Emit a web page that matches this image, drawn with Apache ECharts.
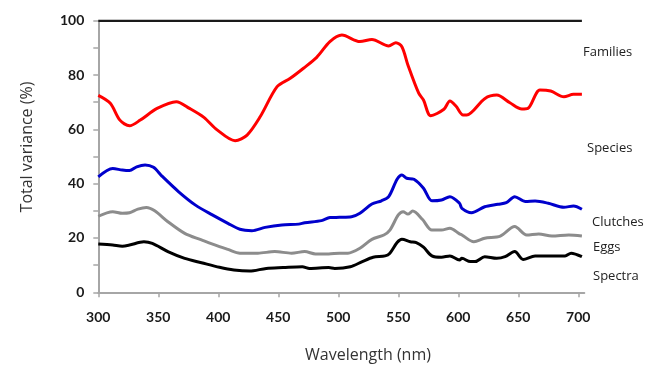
<!DOCTYPE html>
<html><head><meta charset="utf-8">
<script src="https://cdn.jsdelivr.net/npm/echarts@6/dist/echarts.min.js"></script>
<style>html,body{margin:0;padding:0;background:#fff}#c{width:658px;height:370px}</style>
</head><body><div id="c"></div>
<script>
const xTicks = [300, 350, 400, 450, 500, 550, 600, 650, 700];
const yTicks = [0, 20, 40, 60, 80, 100];

const totalNm = [300, 703];
const totalVal = [100, 100];

const familiesNm = [300,310,318,326,335,349,365,376,388,399,414,424,435,449,460,471,482,493,503,518,528,542,548,553,558,567,571,577,588,593,598,604,607,622,632,643,653,658,668,677,688,696,703];
const familiesVal = [72.5,69.6,63.4,61.3,63.4,67.7,70.2,67.7,64.4,59.8,55.8,57.9,64.7,75.7,78.8,82.5,86.5,92.3,94.7,92.3,93.1,90.7,91.9,90.4,83.7,73.3,70.8,65.0,67.4,70.4,68.6,65.3,65.3,71.3,72.6,69.8,67.5,67.7,74.5,74.1,72.0,72.9,72.9];

const speciesNm = [300,312,320,326,332,339,346,353,367,381,395,408,418,428,439,453,467,472,486,493,501,511,518,528,536,542,549,553,557,563,571,578,586,593,601,603,611,622,633,640,647,656,664,675,688,696,703];
const speciesVal = [42.5,45.6,45.0,44.8,46.2,46.9,46.0,42.8,37.0,32.1,28.5,25.4,23.2,22.7,23.9,24.8,25.1,25.6,26.4,27.5,27.6,27.8,29.1,32.5,33.7,35.2,41.6,43.2,42.0,41.6,38.3,33.7,34.0,35.2,32.8,30.9,29.3,31.5,32.4,33.0,35.2,33.4,33.6,32.8,31.3,31.8,30.6];

const clutchesNm = [300,312,320,326,333,340,347,358,372,386,401,408,418,433,447,461,472,481,492,501,508,518,528,538,543,550,554,558,562,570,578,586,593,601,603,613,622,635,647,657,667,678,692,703];
const clutchesVal = [28.0,29.7,29.1,29.3,30.6,31.2,30.0,26.0,21.7,19.3,16.8,15.8,14.4,14.4,15.0,14.4,15.0,14.1,14.1,14.4,14.4,16.2,19.5,21.1,22.9,28.5,29.7,28.8,29.9,26.9,22.9,22.9,23.6,21.5,21.1,18.6,19.9,20.7,24.2,21.1,21.5,20.7,21.1,20.7];

const eggsNm = [300,312,320,326,338,345,358,372,386,401,413,426,440,454,470,476,492,497,510,520,529,539,543,549,553,560,565,571,578,586,593,601,603,610,614,622,632,639,647,654,664,675,689,694,703];
const eggsVal = [17.8,17.4,17.0,17.4,18.6,18.0,15.0,12.5,10.9,9.2,8.2,7.8,8.8,9.1,9.4,8.8,9.1,8.8,9.4,11.3,12.9,13.4,14.4,18.3,19.5,18.6,18.3,16.6,13.4,12.9,13.4,11.9,12.5,11.3,11.3,13.1,12.5,13.1,15.0,12.1,13.4,13.4,13.4,14.4,13.1];

const bandNames = ['Families', 'Species', 'Clutches', 'Eggs', 'Spectra'];
const xAxisTitle = 'Wavelength (nm)';
const yAxisTitle = 'Total variance (%)';

const pair = (xs, ys) => xs.map((x, i) => [x, ys[i]]);
const TICKFONT = 'Lato';
const TEXTFONT = 'Open Sans';

function line(name, xs, ys, color, width, smooth) {
  return {
    name, type: 'line', data: pair(xs, ys), showSymbol: false, smooth: smooth,
    lineStyle: { color, width }, animation: false, z: 3
  };
}

const bandLabelPos = [[583, 52], [587, 148], [592, 222], [593, 247], [593, 276]];

const chart = echarts.init(document.getElementById('c'), null, { renderer: 'canvas' });
chart.setOption({
  animation: false,
  backgroundColor: '#fff',
  grid: { left: 98.3, right: 73.7, top: 20.7, bottom: 77.7, containLabel: false },
  xAxis: {
    type: 'value', min: 300, max: 705, interval: 50,
    axisLine: { show: true, lineStyle: { color: '#a6a6a6', width: 2 } },
    axisTick: { show: true, length: 5, customValues: xTicks, lineStyle: { color: '#a6a6a6', width: 1.5 } },
    axisLabel: { customValues: xTicks, margin: 18, fontFamily: TICKFONT, fontSize: 14, fontWeight: 'bold', color: '#1a1a1a' },
    splitLine: { show: false }
  },
  yAxis: {
    type: 'value', min: 0, max: 100, interval: 10,
    axisLine: { show: true, lineStyle: { color: '#a6a6a6', width: 2 } },
    axisTick: { show: true, length: 5, lineStyle: { color: '#a6a6a6', width: 1.5 } },
    axisLabel: { customValues: yTicks, margin: 14, fontFamily: TICKFONT, fontSize: 14, fontWeight: 'bold', color: '#1a1a1a' },
    splitLine: { show: false }
  },
  series: [
    line('Total', totalNm, totalVal, '#1a1a1a', 2.5, false),
    line('Families', familiesNm, familiesVal, '#ff0000', 3, 0.3),
    line('Species', speciesNm, speciesVal, '#0000cc', 3, 0.3),
    line('Clutches', clutchesNm, clutchesVal, '#8c8c8c', 3, 0.3),
    line('Eggs', eggsNm, eggsVal, '#000000', 3, 0.3)
  ],
  graphic: [
    ...bandNames.map((t, i) => ({
      type: 'text', x: bandLabelPos[i][0], y: bandLabelPos[i][1],
      style: { text: t, fontFamily: TEXTFONT, fontSize: 13, fill: '#222', align: 'left', verticalAlign: 'middle' }
    })),
    { type: 'text', x: 368, y: 355, style: { text: xAxisTitle, fontFamily: TEXTFONT, fontSize: 16, fill: '#333', align: 'center', verticalAlign: 'middle' } },
    { type: 'text', x: 27, y: 147, rotation: Math.PI / 2, style: { text: yAxisTitle, fontFamily: TEXTFONT, fontSize: 16, fill: '#333', align: 'center', verticalAlign: 'middle' } }
  ]
});
</script></body></html>
